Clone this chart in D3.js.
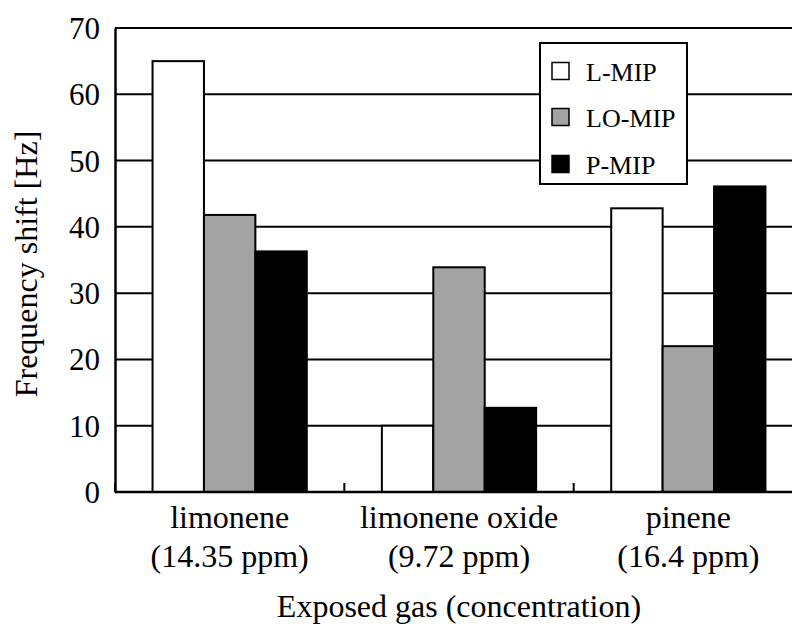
<!DOCTYPE html>
<html><head><meta charset="utf-8">
<script src="https://cdn.jsdelivr.net/npm/d3@7"></script>
<style>body{margin:0;background:#fff}svg{display:block}</style>
</head><body><svg id="c" width="792" height="624" font-family="Liberation Serif"></svg>
<script>
const categories = ["limonene", "limonene oxide", "pinene"];
const concentrations = ["(14.35 ppm)", "(9.72 ppm)", "(16.4 ppm)"];
const seriesNames = ["L-MIP", "LO-MIP", "P-MIP"];
const lmip = [65, 10, 42.8];
const lomip = [41.8, 33.9, 22.0];
const pmip = [36.3, 12.7, 46.1];
const yTicks = [0, 10, 20, 30, 40, 50, 60, 70];
const colors = ["#ffffff", "#a3a3a3", "#000000"];

(function () {
const FONT = "Liberation Serif";
const seriesValues = [lmip, lomip, pmip];
const svg = d3.select("#c");
const mLeft = 115, mRight = 803, mTop = 28, mBottom = 492;
const x0 = d3.scaleBand().domain(categories).range([mLeft, mRight]).padding(0);
const x1 = d3.scaleBand().domain(seriesNames).range([0, x0.bandwidth()]).paddingInner(0).paddingOuter(0.73);
const y = d3.scaleLinear().domain([0, 70]).range([mBottom, mTop]);

svg.append("g").selectAll("line").data(yTicks.filter(d => d > 0)).join("line")
  .attr("x1", mLeft).attr("x2", mRight).attr("y1", d => y(d)).attr("y2", d => y(d))
  .attr("stroke", "#000").attr("stroke-width", 2);

const data = [];
categories.forEach((c, i) => seriesNames.forEach((s, j) => data.push({c, s, v: seriesValues[j][i], j})));
svg.append("g").selectAll("rect").data(data).join("rect")
  .attr("x", d => x0(d.c) + x1(d.s)).attr("width", x1.bandwidth())
  .attr("y", d => y(d.v)).attr("height", d => y(0) - y(d.v))
  .attr("fill", d => colors[d.j]).attr("stroke", "#000").attr("stroke-width", 2);

const yAxis = svg.append("g").attr("transform", `translate(${mLeft},0)`)
  .call(d3.axisLeft(y).tickValues(yTicks).tickSize(0).tickPadding(15));
yAxis.attr("font-family", FONT).attr("font-size", 31);
yAxis.select(".domain").attr("stroke", "#000").attr("stroke-width", 2.5);
yAxis.selectAll("text").attr("font-family", FONT).attr("font-size", 31).attr("fill", "#000").attr("dy", "0.34em");

const xAxis = svg.append("g").attr("transform", `translate(0,${mBottom})`);
xAxis.append("line").attr("x1", mLeft).attr("x2", mRight).attr("stroke", "#000").attr("stroke-width", 2.5);
const bounds = [mLeft, ...categories.map(c => x0(c) + x0.bandwidth())];
xAxis.selectAll(".tk").data(bounds).join("line").attr("class", "tk")
  .attr("x1", d => d).attr("x2", d => d).attr("y1", 0).attr("y2", -9)
  .attr("stroke", "#000").attr("stroke-width", 2);
const lab = xAxis.selectAll(".lab").data(categories).join("text").attr("class", "lab")
  .attr("text-anchor", "middle").attr("font-size", 32).attr("font-family", FONT);
lab.append("tspan").attr("x", d => x0(d) + x0.bandwidth() / 2).attr("y", 36).text(d => d);
lab.append("tspan").attr("x", d => x0(d) + x0.bandwidth() / 2).attr("y", 75).text((d, i) => concentrations[i]);

svg.append("text").attr("x", 459).attr("y", 617).attr("text-anchor", "middle").attr("font-size", 32)
  .attr("font-family", FONT).text("Exposed gas (concentration)");
svg.append("text").attr("transform", "translate(37,264) rotate(-90)").attr("text-anchor", "middle").attr("font-size", 32)
  .attr("font-family", FONT).text("Frequency shift [Hz]");

const lg = svg.append("g");
lg.append("rect").attr("x", 540).attr("y", 43).attr("width", 147).attr("height", 141)
  .attr("fill", "#fff").attr("stroke", "#000").attr("stroke-width", 2);
const rowsY = [71, 117, 164];
seriesNames.forEach((s, j) => {
  lg.append("rect").attr("x", 552).attr("y", rowsY[j] - 8.5).attr("width", 17).attr("height", 17)
    .attr("fill", colors[j]).attr("stroke", "#000").attr("stroke-width", 1.5);
  lg.append("text").attr("x", 586).attr("y", rowsY[j] + 10).attr("font-size", 26)
    .attr("font-family", FONT).text(s);
});
})();
</script></body></html>
